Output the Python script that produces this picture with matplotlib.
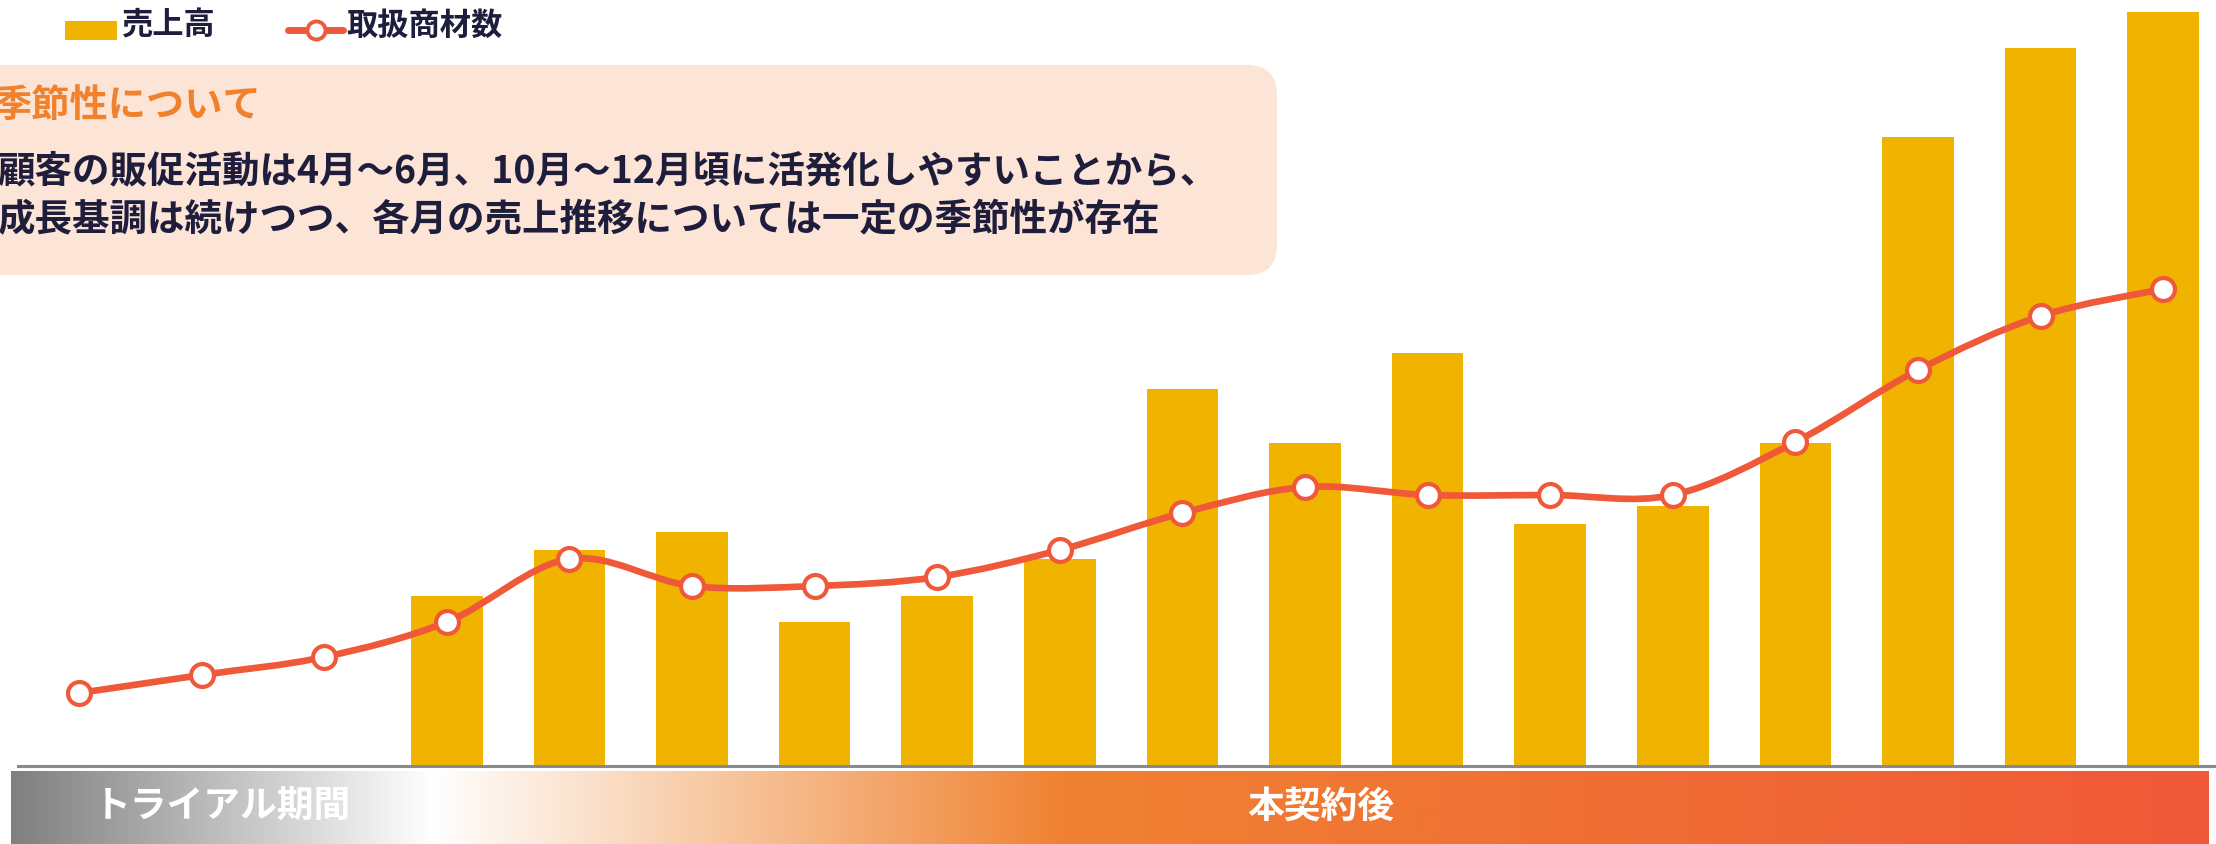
import numpy as np
import matplotlib
matplotlib.use("Agg")
import matplotlib.pyplot as plt
from matplotlib.patches import FancyBboxPatch, Rectangle
from matplotlib.path import Path
from matplotlib.patches import PathPatch
from matplotlib.colors import to_rgb

plt.rcParams['font.family'] = ['Noto Sans CJK JP', 'DejaVu Sans']

# ---- data -------------------------------------------------------------
periods = list(range(18))                       # monthly periods, oldest first
sales = [None, None, None, 169, 215, 233, 143, 169, 206,
         376, 322, 412, 241, 259, 322, 628, 717, 753]   # 売上高 (relative)
items = [72, 90, 108, 143, 206, 179, 179, 188, 215,
         252, 278, 270, 270, 270, 323, 395, 449, 476]   # 取扱商材数 (relative)

legend_labels = ["売上高", "取扱商材数"]
box_title = "季節性について"
box_lines = ["顧客の販促活動は4月～6月、10月～12月頃に活発化しやすいことから、",
             "成長基調は続けつつ、各月の売上推移については一定の季節性が存在"]
phase_labels = ["トライアル期間", "本契約後"]

# ---- style ------------------------------------------------------------
BAR = "#F0B400"
LINE = "#EF5839"
NAVY = "#1E1E3C"
W, H = 2216, 844
STEP = 122.6          # px between periods
X0 = 79               # px of first period
BASE = 765            # px (from top) of the baseline

fig = plt.figure(figsize=(W / 100, H / 100), dpi=100)
fig.patch.set_facecolor("white")

# main chart axes: y units map to pixels above the baseline
ax = fig.add_axes([0, (H - BASE) / H, 1, BASE / H])
ax.set_xlim(-X0 / STEP, (W - X0) / STEP)
ax.set_ylim(0, BASE)
ax.axis("off")

bx = [p for p, s in zip(periods, sales) if s is not None]
bh = [s for s in sales if s is not None]
ax.bar(bx, bh, width=0.585, color=BAR, zorder=2)

# smooth line through the item counts (Catmull-Rom as cubic Beziers)
px = np.array(periods, dtype=float)
py = np.array(items, dtype=float)
pts = np.column_stack([px, py])
ext = np.vstack([pts[0], pts, pts[-1]])
verts = [tuple(pts[0])]
codes = [Path.MOVETO]
for i in range(1, len(ext) - 2):
    p0, p1, p2, p3 = ext[i - 1], ext[i], ext[i + 1], ext[i + 2]
    c1 = p1 + (p2 - p0) / 6.0
    c2 = p2 - (p3 - p1) / 6.0
    verts += [tuple(c1), tuple(c2), tuple(p2)]
    codes += [Path.CURVE4] * 3
ax.add_patch(PathPatch(Path(verts, codes), facecolor="none", edgecolor=LINE,
                       lw=4.8, zorder=3, capstyle="round"))
ax.plot(px, py, linestyle="none", marker="o", ms=16.5, mfc="white",
        mec=LINE, mew=3.0, zorder=4)

# baseline
ax.axhline(-1, xmin=18 / W, xmax=1, color="#8A8A8A", lw=2.2, zorder=5,
           clip_on=False)

# ---- overlay in pixel coordinates -------------------------------------
ov = fig.add_axes([0, 0, 1, 1])
ov.set_xlim(0, W)
ov.set_ylim(H, 0)
ov.axis("off")

# legend
ov.add_patch(Rectangle((65, 21), 52, 19, facecolor=BAR, edgecolor="none"))
ov.text(121, 26, legend_labels[0], fontsize=22.5, fontweight="bold",
        color=NAVY, va="center", ha="left")
ov.plot([288, 343], [30, 30], color=LINE, lw=5, solid_capstyle="round")
ov.plot([316], [30], marker="o", ms=13, mfc="white", mec=LINE, mew=2.8)
ov.text(346, 26, legend_labels[1], fontsize=22.5, fontweight="bold",
        color=NAVY, va="center", ha="left")

# note box
ov.add_patch(FancyBboxPatch((-80, 65), 1277 + 80, 210,
                            boxstyle="round,pad=0,rounding_size=30",
                            facecolor="#FCE4D6", edgecolor="none"))
ov.text(-7, 105, box_title, fontsize=27.5, fontweight="bold",
        color="#F0822E", va="center", ha="left")
ov.text(-3, 171, box_lines[0], fontsize=27, fontweight="bold",
        color=NAVY, va="center", ha="left")
ov.text(-3, 220, box_lines[1], fontsize=27, fontweight="bold",
        color=NAVY, va="center", ha="left")

# phase band with colour gradient
stops = [(0.0, "#7F7F7F"), ((432 - 11) / 2198, "#FFFFFF"),
         ((700 - 11) / 2198, "#F8CBA6"),
         ((1060 - 11) / 2198, "#F08232"), (1.0, "#F05838")]
xs = np.linspace(0, 1, 1200)
grad = np.zeros((1, xs.size, 3))
for c in range(3):
    grad[0, :, c] = np.interp(xs, [s[0] for s in stops],
                              [to_rgb(s[1])[c] for s in stops])
ov.imshow(grad, extent=(11, 2209, H, 771), aspect="auto",
          interpolation="bilinear", zorder=1)
ov.set_xlim(0, W)
ov.set_ylim(H, 0)
ov.text(222, 807, phase_labels[0], fontsize=26.5, fontweight="bold",
        color="white", va="center", ha="center", zorder=2)
ov.text(1321, 807, phase_labels[1], fontsize=26.5, fontweight="bold",
        color="white", va="center", ha="center", zorder=2)

fig.savefig("out.png", dpi=100, facecolor="white")
